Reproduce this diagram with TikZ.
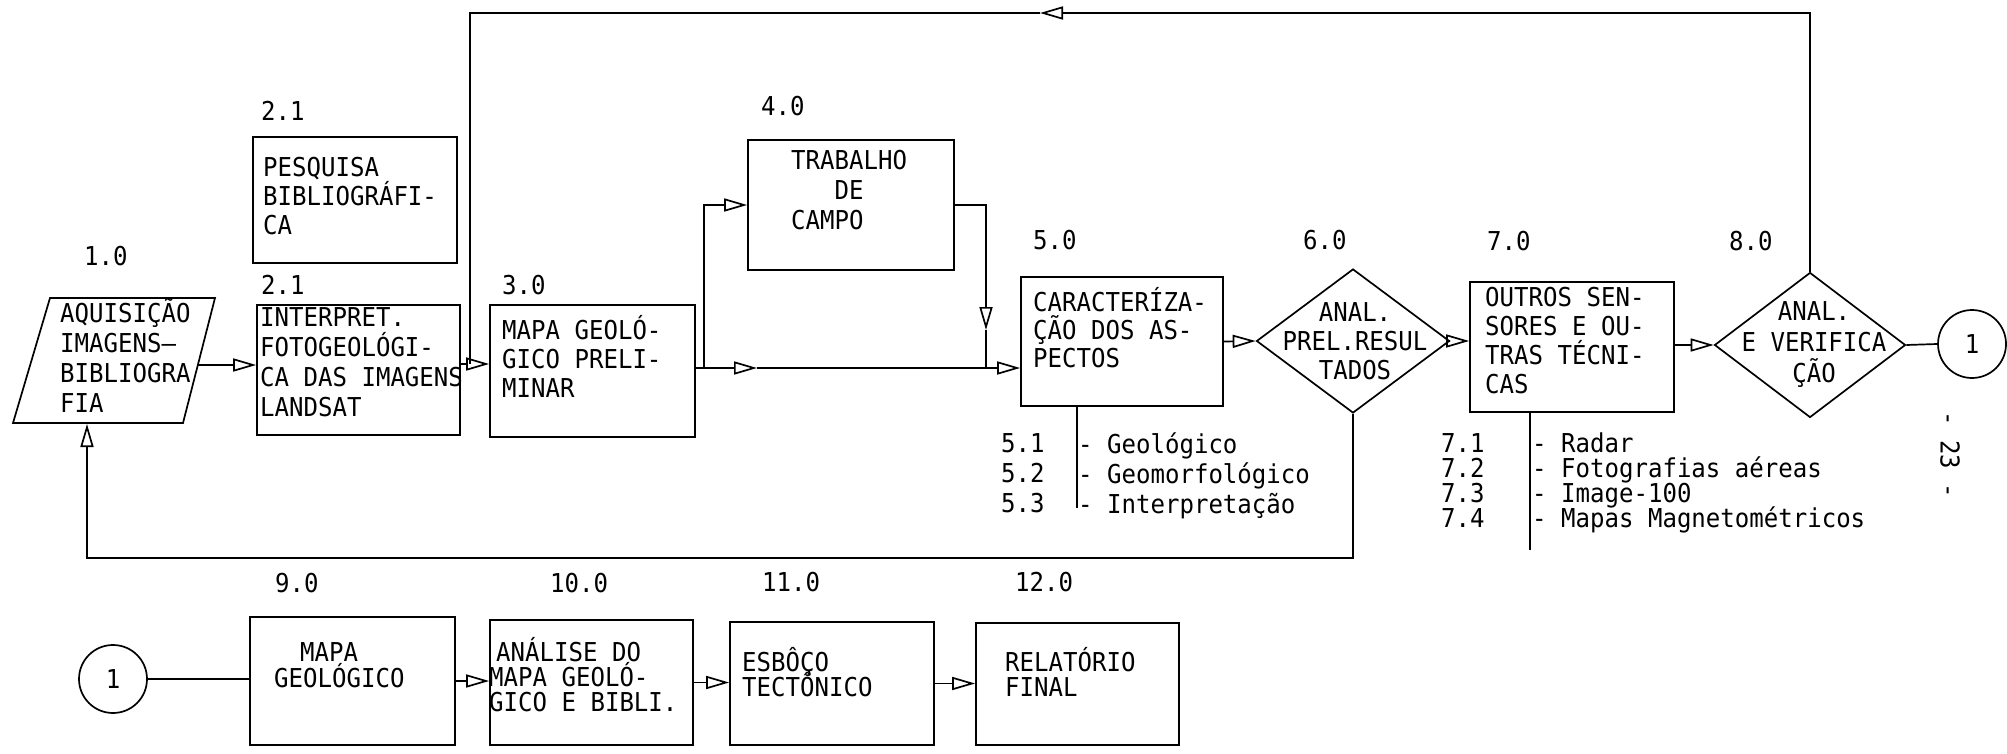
\documentclass[tikz,border=0pt]{standalone}
\usepackage{fontspec}
\newfontfamily\tw{DejaVu Sans Mono}[FakeStretch=0.925]
\usetikzlibrary{arrows.meta,shapes.geometric}
\newcommand{\tstrut}{\vrule width 0pt height 24pt depth 0pt\relax}
\newcommand{\twf}[1]{\tw\fontsize{26}{#1}\selectfont}
\tikzset{
 ln/.style={line width=1.7pt},
 arr/.style={ln,-{Triangle[open,length=23pt,width=13pt]}},
 box/.style={draw,ln,rectangle,inner sep=0pt},
 dia/.style={draw,ln,diamond,inner sep=0pt},
 circ/.style={draw,ln,circle,inner sep=0pt,minimum size=68pt,font=\twf{29}},
 txt/.style={inner sep=0pt,anchor=north west,align=left,execute at begin node=\tstrut,font=\twf{#1}},
 txt/.default=29,
 ctxt/.style={txt=#1,anchor=north,align=center},
 ctxt/.default=29,
 lbl/.style={inner sep=0pt,anchor=base west,font=\twf{29}},
}
\begin{document}
\lineskiplimit=-40pt
\begin{tikzpicture}[x=1pt,y=-1pt]
\useasboundingbox (0,0) rectangle (2007,754);
\fill[white] (0,0) rectangle (2007,754);

% 1.0 parallelogram
\draw[ln] (13,423) -- (50,298) -- (215,298) -- (183,423) -- cycle;
\coordinate (p1out) at (198,365);
\coordinate (p1in) at (87,424);
\node[txt=30] (t1) at (60,298) {AQUISIÇÃO\\IMAGENS—\\BIBLIOGRA\\FIA};

% labels
\node[lbl] (l10) at (84,265) {1.0};
\node[lbl] (l21a) at (261,121) {2.1};
\node[lbl] (l21b) at (261,294) {2.1};
\node[lbl] (l30) at (502,294) {3.0};
\node[lbl] (l40) at (761,116) {4.0};
\node[lbl] (l50) at (1033,249) {5.0};
\node[lbl] (l60) at (1303,249) {6.0};
\node[lbl] (l70) at (1487,250) {7.0};
\node[lbl] (l80) at (1729,250) {8.0};
\node[lbl] (l90) at (275,592) {9.0};
\node[lbl] (l100) at (550,592) {10.0};
\node[lbl] (l110) at (762,591) {11.0};
\node[lbl] (l120) at (1015,591) {12.0};

% boxes top row
\node[box,minimum width=204pt,minimum height=126pt] (b21a) at (355,200) {};
\node[txt] (t21a) at (263,157) {PESQUISA\\BIBLIOGRÁFI-\\CA};
\node[box,minimum width=203pt,minimum height=130pt] (b21b) at (358.5,370) {};
\node[txt=30] (t21b) at (260,307) {INTERPRET.\\FOTOGEOLÓGI-\\CA DAS IMAGENS\\LANDSAT};
\node[box,minimum width=205pt,minimum height=132pt] (b3) at (592.5,371) {};
\node[txt] (t3) at (502,315) {MAPA GEOLÓ-\\GICO PRELI-\\MINAR};
\node[box,minimum width=206pt,minimum height=130pt] (b4) at (851,205) {};
\node[txt=30] (t4) at (791,150) {TRABALHO\\\phantom{TRA}DE\\CAMPO};
\node[box,minimum width=202pt,minimum height=129pt] (b5) at (1122,341.5) {};
\node[txt=28] (t5) at (1033,287) {CARACTERÍZA-\\ÇÃO DOS AS-\\PECTOS};
\node[dia,minimum width=193pt,minimum height=144pt] (d6) at (1353,341) {};
\node[ctxt=29] (t6) at (1355,302) {ANAL.\\PREL.RESUL\\TADOS};
\node[box,minimum width=204pt,minimum height=130pt] (b7) at (1572,347) {};
\node[txt] (t7) at (1485,287) {OUTROS SEN-\\SORES E OU-\\TRAS TÉCNI-\\CAS};
\node[dia,minimum width=191pt,minimum height=145pt] (d8) at (1810,345) {};
\node[ctxt=31] (t8) at (1814,301) {ANAL.\\E VERIFICA\\ÇÃO};
\node[circ] (c1) at (1972,344) {1};
\node[lbl,anchor=center,rotate=-90] (pg) at (1950,455) {- 23 -};

% sub lists
\node[txt=30] (n5) at (1001,433) {5.1\\5.2\\5.3};
\node[txt=30] (i5) at (1078,433) {- Geológico\\- Geomorfológico\\- Interpretação};
\node[txt=25] (n7) at (1441,433) {7.1\\7.2\\7.3\\7.4};
\node[txt=25] (i7) at (1532,433) {- Radar\\- Fotografias aéreas\\- Image-100\\- Mapas Magnetométricos};

% bottom row
\node[circ] (c2) at (113,679) {1};
\node[box,minimum width=205pt,minimum height=128pt] (b9) at (352.5,681) {};
\node[txt=26] (t9) at (274,642) {\hspace*{26pt}MAPA\\GEOLÓGICO};
\node[box,minimum width=203pt,minimum height=125pt] (b10) at (591.5,682.5) {};
\node[txt=25] (t10) at (489,637) {\hspace*{7pt}ANÁLISE DO\\MAPA GEOLÓ-\\GICO E BIBLI.};
\node[box,minimum width=204pt,minimum height=123pt] (b11) at (832,683.5) {};
\node[txt=25] (t11) at (742,647) {ESBÔÇO\\TECTÔNICO};
\node[box,minimum width=203pt,minimum height=122pt] (b12) at (1077.5,684) {};
\node[txt=25] (t12) at (1005,647) {RELATÓRIO\\FINAL};

% connectors
\coordinate (j3) at (470,364);
\coordinate (tA) at (1040,13);
\coordinate (tB) at (470,13);
\coordinate (m1) at (757,368);
\coordinate (br) at (704,368);
\coordinate (dn) at (986,330);
\coordinate (bl) at (87,558);
\coordinate (v5) at (1077,508);
\coordinate (v7) at (1530,550);

\draw[arr] (p1out) -- (p1out -| b21b.west);
\draw[arr] (j3 -| b21b.east) -- (j3 -| b3.west);
\draw[arr] (d8.north) |- (tA);
\draw[ln] (tA) -- (tB) -- (j3);
\draw[arr] (m1 -| b3.east) -- (m1);
\draw[arr] (m1) -- (m1 -| b5.west);
\draw[arr] (br) |- (b4.west);
\draw[arr] (b4.east) -| (dn);
\draw[ln] (dn) -- (dn |- m1);
\draw[arr] (b5.east) -- (d6.west);
\draw[arr] (d6.east) -- (d6.east -| b7.west);
\draw[arr] (b7.east |- d8.west) -- (d8.west);
\draw[ln] (d8.east) -- (c1.west);
\draw[arr] (d6.south) |- (bl) -- (p1in);
\draw[ln] (v5 |- b5.south) -- (v5);
\draw[ln] (v7 |- b7.south) -- (v7);

\draw[ln] (c2.east) -- (c2.east -| b9.west);
\draw[arr] (b9.east) -- (b9.east -| b10.west);
\draw[arr] (b10.east) -- (b10.east -| b11.west);
\draw[arr] (b11.east) -- (b11.east -| b12.west);
\end{tikzpicture}
\end{document}
